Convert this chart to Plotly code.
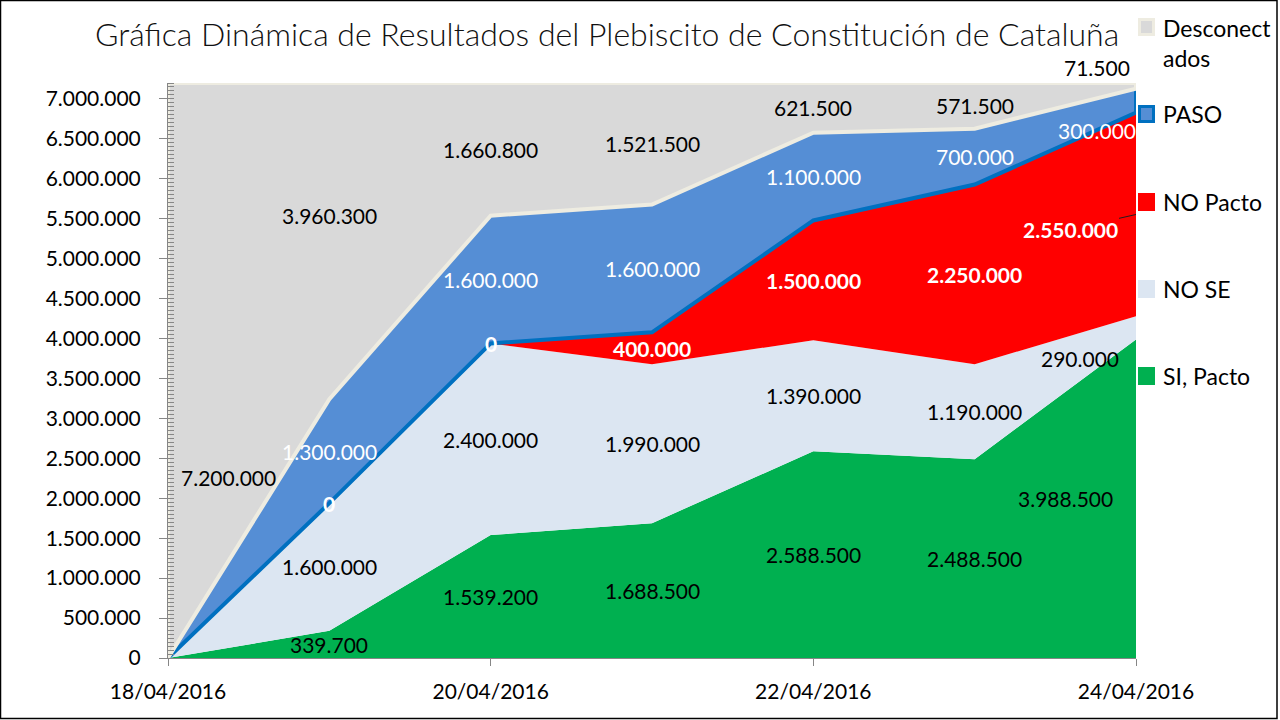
import numpy as np
import plotly.graph_objects as go

# ---------------- data ----------------
dates = ["2016-04-18", "2016-04-19", "2016-04-20", "2016-04-21",
         "2016-04-22", "2016-04-23", "2016-04-24"]
si_pacto = [0, 339700, 1539200, 1688500, 2588500, 2488500, 3988500]
no_se = [0, 1600000, 2400000, 1990000, 1390000, 1190000, 290000]
no_pacto = [0, 0, 0, 400000, 1500000, 2250000, 2550000]
paso = [0, 1300000, 1600000, 1600000, 1100000, 700000, 300000]
desconectados = [7200000, 3960300, 1660800, 1521500, 621500, 571500, 71500]

series_names = ["SI, Pacto", "NO SE", "NO Pacto", "PASO", "Desconectados"]
legend_names = ["SI, Pacto", "NO SE", "NO Pacto", "PASO", "Desconect<br>ados"]
title_text = "Gráfica Dinámica de Resultados del Plebiscito de Constitución de Cataluña"

# ---------------- styles ----------------
FONT = "Lato"
fills = ["#00B050", "#DCE6F2", "#FF0000", "#558ED5", "#D9D9D9"]
label_colors = ["black", "black", "white", "white", "black"]
label_bold = [False, False, True, False, False]
first_label_day = [1, 1, 1, 1, 0]
PASO_LINE = "#0070C0"
DESC_LINE = "#EEECE1"

W, H = 1280, 720
L, R, T, B = 168, 144, 83, 62
PW, PH = W - L - R, H - T - B


def px(x):
    return (x - L) / PW


def py(y):
    return (H - B - y) / PH


values = [si_pacto, no_se, no_pacto, paso, desconectados]
arr = np.array(values, dtype=float)
cum = np.cumsum(arr, axis=0)
below = cum - arr

fig = go.Figure()

# stacked fills
for name, vals, col in zip(series_names, values, fills):
    fig.add_trace(go.Scatter(
        x=dates, y=vals, name=name, stackgroup="one", mode="lines",
        line=dict(width=0, color=col), fillcolor=col, showlegend=False,
        hoverinfo="skip"))

# PASO border (bottom + right edge)
fig.add_trace(go.Scatter(
    x=dates + [dates[-1]], y=list(cum[2]) + [cum[3][-1]], mode="lines",
    line=dict(color=PASO_LINE, width=4), showlegend=False, hoverinfo="skip"))
# Desconectados border (full outline)
fig.add_trace(go.Scatter(
    x=dates + dates[::-1] + [dates[0]],
    y=list(cum[3]) + list(cum[4][::-1]) + [cum[3][0]], mode="lines",
    line=dict(color=DESC_LINE, width=4), showlegend=False, hoverinfo="skip"))

# data labels
offsets = {
    (4, 0): (60, -107),
    (4, 1): (0, 26),
    (4, 6): (-39, 18),
    (3, 6): (-39, -30),
    (1, 6): (-56, -31),
    (0, 6): (-71, 0),
}


def fmt(v):
    return f"{int(v):,}".replace(",", ".")


for s in range(5):
    for d in range(first_label_day[s], len(dates)):
        mid = below[s][d] + arr[s][d] / 2
        txt = fmt(arr[s][d])
        if label_bold[s]:
            txt = f"<b>{txt}</b>"
        font = dict(family=FONT, size=21, color=label_colors[s])
        if (s, d) == (2, 6):
            fig.add_annotation(x=dates[d], y=mid, xref="x", yref="y", text=txt,
                               font=font, showarrow=True, ax=-66, ay=15,
                               arrowhead=0, arrowwidth=1, arrowcolor="#202020",
                               standoff=0)
            continue
        xs, ys = offsets.get((s, d), (0, 0))
        fig.add_annotation(x=dates[d], y=mid, xref="x", yref="y", text=txt,
                           font=font, showarrow=False, xshift=xs, yshift=ys)

# title
fig.add_annotation(x=px(607), y=py(34), xref="paper", yref="paper",
                   text=title_text, showarrow=False,
                   font=dict(family=FONT, size=32, color="#111111", weight=300),
                   xanchor="center", yanchor="middle")

# manual legend (top to bottom)
leg_y = [376, 289, 202, 114, 27]
leg_border = [fills[0], fills[1], fills[2], PASO_LINE, DESC_LINE]
for s in range(5):
    cy = leg_y[s]
    fig.add_shape(type="rect", xref="paper", yref="paper",
                  x0=px(1139.5), x1=px(1153.5), y0=py(cy - 7.5), y1=py(cy + 7.5),
                  fillcolor=fills[s], line=dict(color=leg_border[s], width=3))
    if s == 4:
        fig.add_annotation(x=px(1161), y=py(cy - 15), xref="paper", yref="paper",
                           text=legend_names[s], showarrow=False, align="left",
                           xanchor="left", yanchor="top",
                           font=dict(family=FONT, size=23, color="black"))
    else:
        fig.add_annotation(x=px(1161), y=py(cy), xref="paper", yref="paper",
                           text=legend_names[s], showarrow=False,
                           xanchor="left", yanchor="middle",
                           font=dict(family=FONT, size=23, color="black"))

# outer frame
fig.add_shape(type="rect", xref="paper", yref="paper",
              x0=px(0.5), x1=px(1277), y0=py(0.5), y1=py(718.5),
              line=dict(color="black", width=1.5), fillcolor="rgba(0,0,0,0)")

fig.update_layout(
    width=W, height=H, margin=dict(l=L, r=R, t=T, b=B),
    paper_bgcolor="white", plot_bgcolor="white",
    separators=",.", showlegend=False,
    font=dict(family=FONT, size=21, color="black"),
)
fig.update_xaxes(
    type="date", range=[dates[0], dates[-1]], tick0=dates[0],
    dtick=2 * 86400000, tickformat="%d/%m/%Y", showgrid=False,
    showline=True, linecolor="#868686", linewidth=1,
    ticks="outside", ticklen=7, tickcolor="#868686",
    ticklabelstandoff=8, tickfont=dict(family=FONT, size=21, color="black"),
    zeroline=False,
)
fig.update_yaxes(
    range=[0, 7200000], dtick=500000, tick0=0, tickformat=",d",
    showgrid=False, zeroline=False,
    showline=True, linecolor="#868686", linewidth=1,
    ticks="outside", ticklen=8, tickcolor="#868686",
    ticklabelstandoff=14, tickfont=dict(family=FONT, size=21, color="black"),
    minor=dict(dtick=50000, ticks="inside", ticklen=6, tickcolor="#868686",
               showgrid=False),
)

fig.write_html("out.html")
